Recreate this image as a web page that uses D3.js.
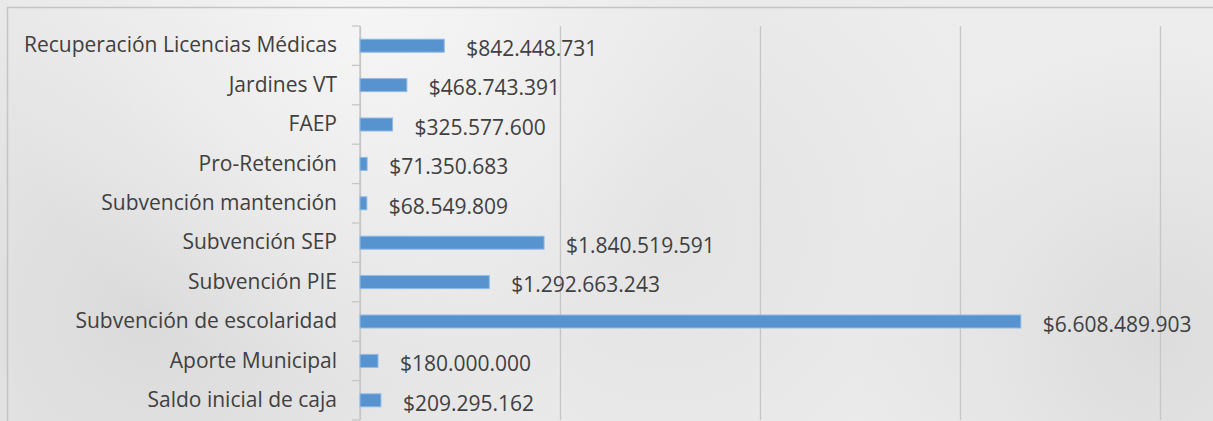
<!DOCTYPE html>
<html>
<head>
<meta charset="utf-8">
<script src="https://cdn.jsdelivr.net/npm/d3@7"></script>
<style>
  body { margin: 0; background: #ececec; }
  #chart { width: 1213px; height: 421px; overflow: hidden; }
  text { font-family: "Open Sans", sans-serif; fill: #404040; }
</style>
</head>
<body>
<div id="chart"></div>
<script>
const categories = ['Recuperación Licencias Médicas', 'Jardines VT', 'FAEP', 'Pro-Retención', 'Subvención mantención',
  'Subvención SEP', 'Subvención PIE', 'Subvención de escolaridad', 'Aporte Municipal', 'Saldo inicial de caja'];
const values = [842448731, 468743391, 325577600, 71350683, 68549809, 1840519591, 1292663243, 6608489903, 180000000, 209295162];
const gridTicks = [0, 2e9, 4e9, 6e9, 8e9];

const W = 1213;
const H = 421;
const margin = {top: 26, right: 53, bottom: 1, left: 360};
const width = W - margin.left - margin.right;
const height = H - margin.top - margin.bottom;

// es-CL style: $1.234.567
const fmt = (v) => '$' + d3.format(',')(v).replace(/,/g, '.');

const svg = d3.select('#chart')
  .append('svg')
    .attr('width', W)
    .attr('height', H);

// rough stand-in for the textured backdrop
const defs = svg.append('defs');
const blobs = [
  {id: 'b1', cx: 0.12, cy: 0.75, r: 0.35, c: '#d8d8d8'},
  {id: 'b2', cx: 0.95, cy: 0.8, r: 0.25, c: '#dadada'},
  {id: 'b3', cx: 0.55, cy: 0.55, r: 0.3, c: '#e2e2e2'},
  {id: 'b4', cx: 0.3, cy: 0.05, r: 0.3, c: '#f6f6f6'},
];
blobs.forEach(b => {
  const g = defs.append('radialGradient').attr('id', b.id)
    .attr('cx', b.cx).attr('cy', b.cy).attr('r', b.r)
    .attr('gradientTransform', `translate(${b.cx},${b.cy}) scale(1,2.9) translate(${-b.cx},${-b.cy})`);
  g.append('stop').attr('offset', 0).attr('stop-color', b.c).attr('stop-opacity', 0.9);
  g.append('stop').attr('offset', 1).attr('stop-color', b.c).attr('stop-opacity', 0);
});
svg.append('rect').attr('width', W).attr('height', H).attr('fill', '#ededed');
blobs.forEach(b => {
  svg.append('rect').attr('width', W).attr('height', H).attr('fill', `url(#${b.id})`);
});

// chart border (only top and left are visible)
svg.append('path')
  .attr('d', `M7.5,${H} V7.5 H${W}`)
  .attr('fill', 'none')
  .attr('stroke', '#c4c4c4')
  .attr('stroke-width', 1.5);

const g = svg.append('g')
  .attr('transform', `translate(${margin.left},${margin.top})`);

const x = d3.scaleLinear()
  .domain([0, 8e9])
  .range([0, width]);

const y = d3.scaleBand()
  .domain(categories)
  .range([0, height])
  .paddingInner(0.67)
  .paddingOuter(0.335);

// gridlines
g.append('g')
  .attr('transform', `translate(0,${height})`)
  .call(d3.axisBottom(x).tickValues(gridTicks).tickSize(-height).tickFormat(''))
  .call(a => a.select('.domain').remove())
  .call(a => a.selectAll('.tick line').attr('stroke', '#c6c6c6').attr('stroke-width', 1.3));

// category axis with ticks on band boundaries
const step = y.step();
g.append('g')
  .selectAll('line')
  .data(d3.range(categories.length + 1))
  .join('line')
    .attr('x1', -8)
    .attr('x2', 0)
    .attr('y1', i => i * step)
    .attr('y2', i => i * step)
    .attr('stroke', '#c6c6c6')
    .attr('stroke-width', 1.3);
g.append('line')
  .attr('x1', 0).attr('x2', 0)
  .attr('y1', 0).attr('y2', height)
  .attr('stroke', '#c6c6c6')
  .attr('stroke-width', 1.3);

g.append('g')
  .call(d3.axisLeft(y).tickSize(0).tickPadding(23))
  .call(a => a.select('.domain').remove())
  .call(a => a.selectAll('text')
    .style('font-size', '21px')
    .style('font-family', '"Open Sans", sans-serif')
    .attr('fill', '#404040'));

// bars
g.selectAll('rect.bar')
  .data(values)
  .join('rect')
    .attr('class', 'bar')
    .attr('x', 0)
    .attr('y', (d, i) => y(categories[i]))
    .attr('width', d => x(d))
    .attr('height', y.bandwidth())
    .attr('fill', '#5693cf')
    .attr('stroke', '#8fbbe6')
    .attr('stroke-width', 1);

// value labels
g.selectAll('text.val')
  .data(values)
  .join('text')
    .attr('class', 'val')
    .attr('x', d => x(d) + 22)
    .attr('y', (d, i) => y(categories[i]) + y.bandwidth() / 2 + 3)
    .attr('dy', '0.35em')
    .style('font-size', '21px')
    .text(d => fmt(d));
</script>
</body>
</html>
